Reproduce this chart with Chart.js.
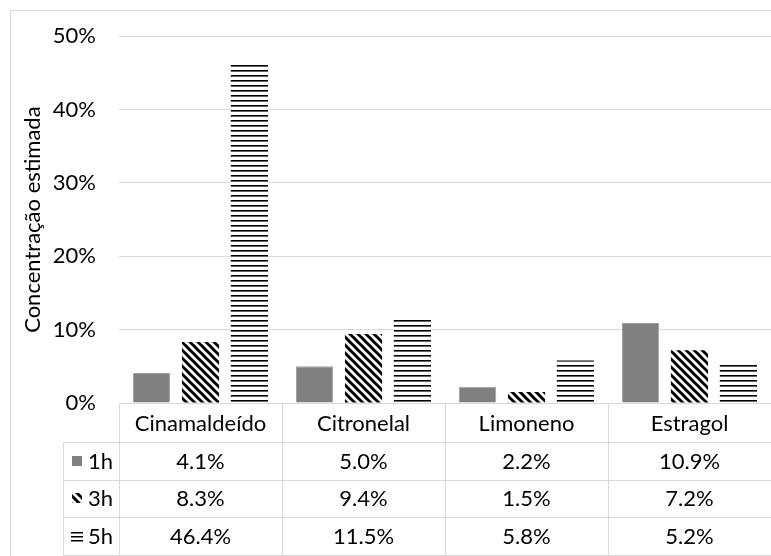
<!DOCTYPE html>
<html>
<head>
<meta charset="utf-8">
<script src="https://cdn.jsdelivr.net/npm/chart.js@4"></script>
<style>
  html, body { margin: 0; padding: 0; background: #fff; }
  canvas { display: block; }
</style>
</head>
<body>
<canvas id="chart" width="771" height="556"></canvas>
<script>
/* ---------- data ---------- */
const categories = ['Cinamaldeído', 'Citronelal', 'Limoneno', 'Estragol'];
const seriesNames = ['1h', '3h', '5h'];
const values1h = [4.1, 5.0, 2.2, 10.9];
const values3h = [8.3, 9.4, 1.5, 7.2];
const values5h = [46.4, 11.5, 5.8, 5.2];
const yTicks = [0, 10, 20, 30, 40, 50];

const FONT = 'Lato';
const FONT_SIZE = 22;
const GRID = '#d9d9d9';

/* ---------- patterns ---------- */
function diagPattern() {
    const c = document.createElement('canvas');
    c.width = 8; c.height = 8;
    const g = c.getContext('2d');
    g.fillStyle = '#fff';
    g.fillRect(0, 0, 8, 8);
    g.strokeStyle = '#000';
    g.lineWidth = 3;
    [-8, 0, 8].forEach(dx => {
        g.beginPath();
        g.moveTo(dx - 1, -1);
        g.lineTo(dx + 9, 9);
        g.stroke();
    });
    return g.createPattern(c, 'repeat');
}

function horzPattern() {
    const c = document.createElement('canvas');
    c.width = 8; c.height = 5;
    const g = c.getContext('2d');
    g.fillStyle = '#fff';
    g.fillRect(0, 0, 8, 5);
    g.fillStyle = '#000';
    g.fillRect(0, 0, 8, 1);
    g.fillStyle = '#666';
    g.fillRect(0, 1, 8, 1);
    return g.createPattern(c, 'repeat');
}

const fills = ['#808080', diagPattern(), horzPattern()];

/* ---------- plugins ---------- */
const frame = {
    id: 'frame',
    beforeDraw(chart) {
        const ctx = chart.ctx;
        ctx.save();
        ctx.fillStyle = '#fff';
        ctx.fillRect(0, 0, chart.width, chart.height);
        ctx.strokeStyle = GRID;
        ctx.lineWidth = 1;
        ctx.strokeRect(10.5, 10.5, chart.width + 10, chart.height + 10);
        ctx.restore();
    }
};

const dataTable = {
    id: 'dataTable',
    afterDraw(chart) {
        const ctx = chart.ctx;
        const x = chart.scales.x;
        const area = chart.chartArea;
        const colW = (area.right - area.left) / categories.length;
        const top = area.bottom;
        const headH = 39;
        const rowH = 37.5;
        const labelLeft = 63;
        const rows = [values1h, values3h, values5h];
        const bottom = top + headH + rowH * rows.length;

        ctx.save();
        ctx.strokeStyle = GRID;
        ctx.lineWidth = 1;

        // horizontal lines
        ctx.beginPath();
        ctx.moveTo(area.left, Math.round(top) + 0.5);
        ctx.lineTo(area.right, Math.round(top) + 0.5);
        for (let r = 0; r <= rows.length; r++) {
            const y = Math.round(top + headH + r * rowH) + 0.5;
            ctx.moveTo(labelLeft, y);
            ctx.lineTo(area.right, y);
        }
        // vertical lines
        for (let i = 0; i <= categories.length; i++) {
            const xx = Math.round(area.left + i * colW) + 0.5;
            ctx.moveTo(xx, top);
            ctx.lineTo(xx, bottom);
        }
        ctx.moveTo(labelLeft + 0.5, top + headH);
        ctx.lineTo(labelLeft + 0.5, bottom);
        ctx.stroke();

        ctx.fillStyle = '#000';
        ctx.font = `${FONT_SIZE}px ${FONT}`;
        ctx.textBaseline = 'middle';
        ctx.textAlign = 'center';

        categories.forEach((name, i) => {
            const cx = x.getPixelForValue(i);
            ctx.fillText(name, cx, top + headH / 2 + 1);
            rows.forEach((vals, r) => {
                const cy = top + headH + r * rowH + rowH / 2 + 1;
                ctx.fillText(vals[i].toFixed(1) + '%', cx, cy);
            });
        });

        // series labels with keys
        seriesNames.forEach((name, r) => {
            const cy = top + headH + r * rowH + rowH / 2;
            ctx.fillStyle = fills[r];
            if (r === 2) {
                ctx.fillStyle = '#000';
                [-4, 0, 4].forEach(d => ctx.fillRect(71, Math.round(cy + d), 12, 1.5));
            } else {
                ctx.fillRect(72, Math.round(cy - 5), 10, 10);
            }
            ctx.fillStyle = '#000';
            ctx.textAlign = 'left';
            ctx.fillText(name, 88, cy + 1);
        });
        ctx.restore();
    }
};

/* ---------- chart ---------- */
new Chart(document.getElementById('chart'), {
    type: 'bar',
    data: {
        labels: categories,
        datasets: [values1h, values3h, values5h].map((vals, i) => ({
            label: seriesNames[i],
            data: vals,
            backgroundColor: fills[i],
            borderColor: i === 0 ? '#a0a0a0' : 'rgba(0,0,0,0)',
            borderWidth: i === 0 ? 1 : 0,
            categoryPercentage: 0.9,
            barPercentage: 0.76
        }))
    },
    options: {
        responsive: false,
        animation: false,
        devicePixelRatio: 1,
        layout: { padding: { left: 12, top: 32, right: 0, bottom: 153 } },
        plugins: {
            legend: { display: false },
            tooltip: { enabled: false }
        },
        scales: {
            x: { display: false },
            y: {
                min: yTicks[0],
                max: yTicks[yTicks.length - 1],
                afterBuildTicks: axis => { axis.ticks = yTicks.map(v => ({ value: v })); },
                afterFit: axis => { axis.width = 107; },
                grid: { color: GRID, drawTicks: false },
                border: { display: false },
                ticks: {
                    padding: 23,
                    color: '#000',
                    font: { family: FONT, size: FONT_SIZE },
                    callback: v => v + '%'
                },
                title: {
                    display: true,
                    text: 'Concentração estimada',
                    color: '#000',
                    font: { family: FONT, size: FONT_SIZE },
                    padding: { top: 8, bottom: 0 }
                }
            }
        }
    },
    plugins: [frame, dataTable]
});
</script>
</body>
</html>
